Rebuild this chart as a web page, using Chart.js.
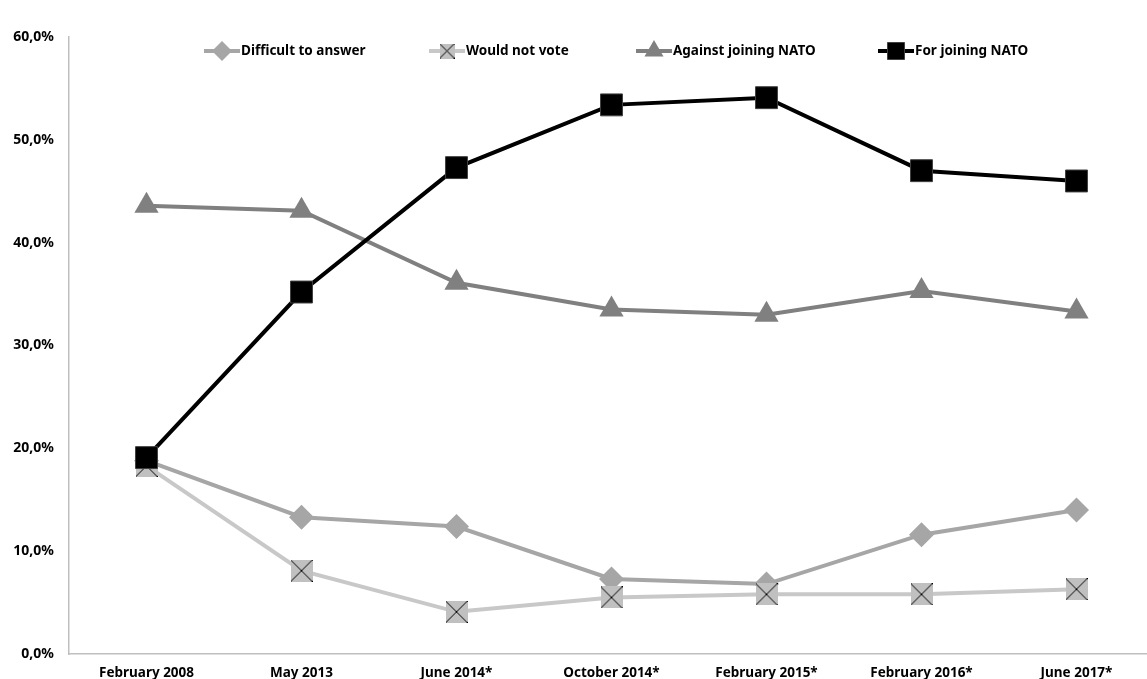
<!DOCTYPE html>
<html>
<head>
<meta charset="utf-8">
<script src="https://cdn.jsdelivr.net/npm/chart.js@4.4.1/dist/chart.umd.min.js"></script>
<style>
  html, body { margin: 0; padding: 0; background: #fff; overflow: hidden; }
  canvas { display: block; }
</style>
</head>
<body>
<canvas id="natoChart" width="1154" height="679"></canvas>
<script>
// survey waves and shares (%)
const surveyDates = ["February 2008", "May 2013", "June 2014*", "October 2014*", "February 2015*", "February 2016*", "June 2017*"];
const difficultToAnswer = [18.8, 13.3, 12.4, 7.3, 6.8, 11.6, 14.0];
const wouldNotVote = [18.3, 8.1, 4.1, 5.5, 5.8, 5.8, 6.3];
const againstJoining = [43.6, 43.1, 36.1, 33.5, 33.0, 35.3, 33.3];
const forJoining = [19.1, 35.2, 47.3, 53.4, 54.1, 47.0, 46.0];
const yMin = 0;
const yMax = 60;
const yStep = 10;

const FONT = "'Noto Sans', 'DejaVu Sans', sans-serif";

// gray square with a black X, used for "Would not vote"
function crossBox(size) {
  const c = document.createElement("canvas");
  c.width = size;
  c.height = size;
  const g = c.getContext("2d");
  g.fillStyle = "#c0c0c0";
  g.fillRect(0, 0, size, size);
  g.strokeStyle = "#000";
  g.lineWidth = 1;
  g.beginPath();
  g.moveTo(0, 0);
  g.lineTo(size, size);
  g.moveTo(size, 0);
  g.lineTo(0, size);
  g.stroke();
  return c;
}

Chart.defaults.font.family = FONT;
Chart.defaults.font.size = 13.5;
Chart.defaults.font.weight = "bold";
Chart.defaults.color = "#000";

const datasets = [
  {
    label: "Difficult to answer",
    data: difficultToAnswer,
    borderColor: "#a6a6a6",
    backgroundColor: "#a6a6a6",
    pointStyle: "rectRot",
    pointRadius: 12.5,
    pointBorderWidth: 0,
    legendRadius: 10,
    order: 3,
  },
  {
    label: "Would not vote",
    data: wouldNotVote,
    borderColor: "#c8c8c8",
    backgroundColor: "#c0c0c0",
    pointStyle: crossBox(22),
    legendStyle: crossBox(15),
    pointRadius: 11,
    pointBorderWidth: 0,
    order: 2,
  },
  {
    label: "Against joining NATO",
    data: againstJoining,
    borderColor: "#808080",
    backgroundColor: "#808080",
    pointStyle: "triangle",
    pointRadius: 14,
    pointBorderWidth: 0,
    legendRadius: 11,
    order: 1,
  },
  {
    label: "For joining NATO",
    data: forJoining,
    borderColor: "#000000",
    backgroundColor: "#000000",
    pointStyle: "rect",
    pointRadius: 15.5,
    pointBorderWidth: 1,
    pointBorderColor: "#404040",
    legendRadius: 12,
    order: 0,
  },
];
datasets.forEach((d) => {
  d.borderWidth = 4;
  d.tension = 0;
  d.pointHoverRadius = d.pointRadius;
});

// legend drawn inside the plot, line + marker + text
const legendStarts = [204, 429, 636, 878];
const topLegend = {
  id: "topLegend",
  afterDraw(chart) {
    const ctx = chart.ctx;
    const y = 51;
    chart.data.datasets.forEach((ds, i) => {
      const x0 = legendStarts[i];
      ctx.save();
      ctx.strokeStyle = ds.borderColor;
      ctx.lineWidth = 4;
      ctx.beginPath();
      ctx.moveTo(x0, y);
      ctx.lineTo(x0 + 36, y);
      ctx.stroke();
      ctx.fillStyle = ds.backgroundColor;
      ctx.strokeStyle = ds.pointBorderColor || ds.backgroundColor;
      ctx.lineWidth = ds.pointBorderWidth;
      Chart.helpers.drawPoint(ctx, {
        pointStyle: ds.legendStyle || ds.pointStyle,
        radius: ds.legendRadius || 8,
        rotation: 0,
        borderWidth: ds.pointBorderWidth,
      }, x0 + 18, y);
      ctx.fillStyle = "#000";
      ctx.font = "bold 13.5px " + FONT;
      ctx.textAlign = "left";
      ctx.textBaseline = "middle";
      ctx.fillText(ds.label, x0 + 37, y);
      ctx.restore();
    });
  },
};

new Chart(document.getElementById("natoChart"), {
  type: "line",
  data: { labels: surveyDates, datasets: datasets },
  plugins: [topLegend],
  options: {
    responsive: false,
    animation: false,
    events: [],
    layout: { autoPadding: false, padding: { top: 37, left: 0, right: 0, bottom: 0 } },
    plugins: {
      legend: { display: false },
      tooltip: { enabled: false },
    },
    scales: {
      x: {
        offset: true,
        grid: { display: false },
        border: { display: true, color: "#bfbfbf", width: 1.5 },
        ticks: { maxRotation: 0, autoSkip: false, padding: 3 },
        afterFit: (scale) => {
          scale.height = 25;
          scale.paddingLeft = 0;
          scale.paddingRight = 0;
        },
      },
      y: {
        min: yMin,
        max: yMax,
        grid: { display: false },
        border: { display: true, color: "#bfbfbf", width: 1.5 },
        ticks: {
          stepSize: yStep,
          padding: 7,
          font: { size: 14 },
          callback: (v) => v.toFixed(1).replace(".", ",") + "%",
        },
        afterFit: (scale) => { scale.width = 69; },
      },
    },
  },
});
</script>
</body>
</html>
